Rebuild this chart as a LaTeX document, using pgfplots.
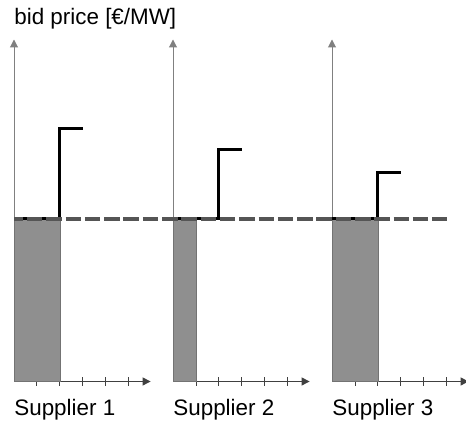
\documentclass[border=0pt]{standalone}
\usepackage{pgfplots}
\pgfplotsset{compat=1.18}
\usepackage{fontspec}
\setmainfont{Liberation Sans}
\usetikzlibrary{arrows.meta}

\definecolor{barfill}{HTML}{8F8F8F}
\definecolor{dashgray}{HTML}{555555}

% one supplier panel: 1 unit in x = 23px = 11.5pt, 1 unit in y = 0.5pt
\pgfplotsset{panel/.style={
    scale only axis,
    width=68.3pt, height=171pt,
    xmin=0, xmax=5.94, ymin=0, ymax=342,
    axis lines=left,
    x axis line style={black!75, line width=0.5pt, -{Triangle[length=4pt,width=4pt]}},
    y axis line style={black!50, line width=0.5pt, -{Triangle[length=4pt,width=4pt]}},
    xtick={1,2,3,4,5}, xticklabels={},
    ytick=\empty,
    major tick length=4.3pt, tick align=center,
    tick style={black!75, line width=0.5pt},
    anchor=south west, clip=false,
}}

\begin{document}
\begin{tikzpicture}[font=\fontsize{11.2}{13}\selectfont]
\useasboundingbox (0,0) rectangle (233pt,210.5pt);

\node[anchor=base west, inner sep=0pt] at (7pt,198pt) {bid price [€/MW]};

% Supplier 1
\begin{axis}[panel, at={(7pt,19.75pt)}]
\addplot[fill=barfill, draw=black!55, line width=0.3pt] coordinates {(0,162.5) (2,162.5)} \closedcycle;
\addplot[black, line width=1.5pt] coordinates {(0,162.5) (2,162.5) (2,253) (3,253)};
\end{axis}
\node[anchor=base west, inner sep=0pt] at (7pt,2.65pt) {Supplier 1};

% Supplier 2
\begin{axis}[panel, at={(86.5pt,19.75pt)}]
\addplot[fill=barfill, draw=black!55, line width=0.3pt] coordinates {(0,162.5) (1,162.5)} \closedcycle;
\addplot[black, line width=1.5pt] coordinates {(0,162.5) (2,162.5) (2,232) (3,232)};
\end{axis}
\node[anchor=base west, inner sep=0pt] at (86.5pt,2.65pt) {Supplier 2};

% Supplier 3, with the common price line across all panels
\begin{axis}[panel, at={(166pt,19.75pt)}]
\addplot[fill=barfill, draw=black!55, line width=0.3pt] coordinates {(0,162.5) (2,162.5)} \closedcycle;
\addplot[black, line width=1.5pt] coordinates {(0,162.5) (2,162.5) (2,209) (3,209)};
\addplot[dashgray, line width=1.6pt, dash pattern=on 7.75pt off 1.9pt, dash phase=3.2pt]
    coordinates {(-13.826,162.5) (4.987,162.5)};
\end{axis}
\node[anchor=base west, inner sep=0pt] at (166pt,2.65pt) {Supplier 3};

\end{tikzpicture}
\end{document}
